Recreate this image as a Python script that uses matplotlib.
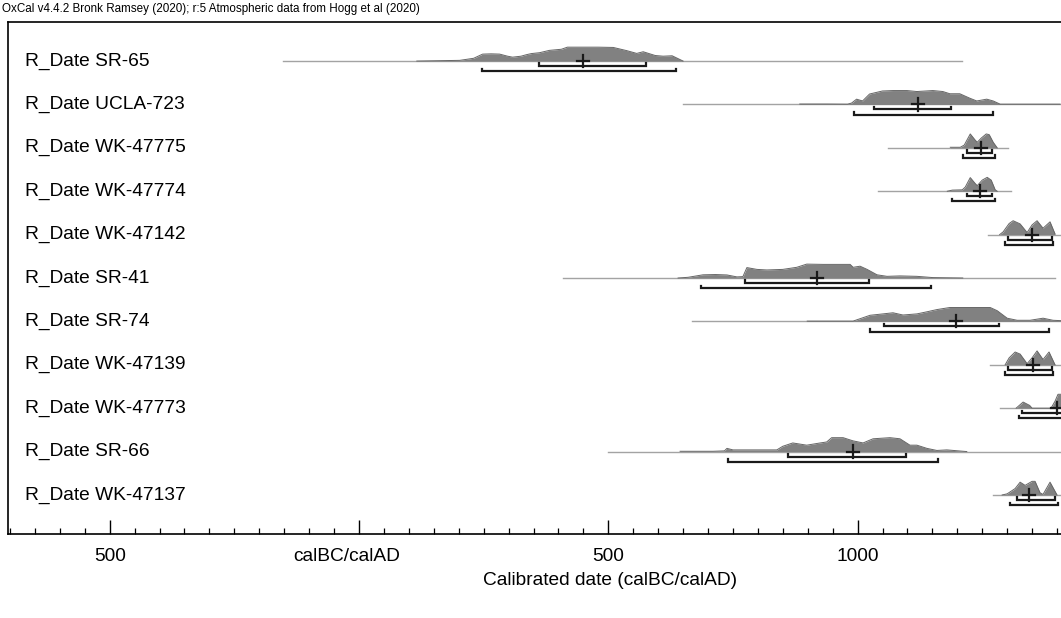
# OxCal style multiplot of calibrated radiocarbon dates
import matplotlib
matplotlib.use("Agg")
from matplotlib import pyplot as plt
from matplotlib import transforms
from matplotlib.ticker import FixedLocator, MultipleLocator

plt.rcParams['font.family'] = ['Liberation Sans', 'DejaVu Sans']

HEADER = "OxCal v4.4.2 Bronk Ramsey (2020); r:5 Atmospheric data from Hogg et al (2020)"
X_LABEL = "Calibrated date (calBC/calAD)"

labels = ["R_Date SR-65", "R_Date UCLA-723", "R_Date WK-47775", "R_Date WK-47774",
          "R_Date WK-47142", "R_Date SR-41", "R_Date SR-74", "R_Date WK-47139",
          "R_Date WK-47773", "R_Date SR-66", "R_Date WK-47137"]

# posterior shapes (year, relative probability)
sr65_years = [116, 202, 230, 248, 265, 282, 298, 308, 325, 336, 346, 362, 382, 406, 418,
              450, 480, 510, 537, 557, 570, 594, 610, 628, 650]
sr65_prob = [0, 0.05, 0.2, 0.5, 0.52, 0.5, 0.35, 0.28, 0.35, 0.46, 0.54, 0.6, 0.77, 0.85, 1.0,
             1.0, 1.0, 0.98, 0.75, 0.55, 0.67, 0.4, 0.35, 0.38, 0]
ucla723_years = [884, 938, 980, 988, 998, 1010, 1024, 1050, 1071, 1099, 1119, 1151, 1171, 1185,
                 1205, 1225, 1239, 1259, 1272, 1286, 1312, 1406]
ucla723_prob = [0.03, 0.03, 0.02, 0.1, 0.38, 0.25, 0.75, 0.97, 1.0, 1.0, 0.93, 1.0, 0.93, 0.77,
                0.77, 0.45, 0.25, 0.38, 0.25, 0.02, 0.02, 0.02]
wk47775_years = [1186, 1206, 1214, 1226, 1236, 1240, 1248, 1258, 1264, 1272, 1280]
wk47775_prob = [0.04, 0.04, 0.2, 1.0, 0.55, 0.4, 0.7, 1.0, 0.95, 0.4, 0]
wk47774_years = [1180, 1190, 1210, 1216, 1226, 1236, 1240, 1250, 1260, 1268, 1276, 1280]
wk47774_prob = [0, 0.08, 0.1, 0.3, 0.98, 0.55, 0.4, 0.8, 1.0, 0.8, 0.1, 0]
wk47142_years = [1285, 1292, 1304, 1312, 1326, 1340, 1350, 1360, 1372, 1386, 1396]
wk47142_prob = [0, 0.2, 0.8, 1.0, 0.77, 0.15, 0.7, 1.0, 0.46, 0.92, 0.05]
sr41_years = [640, 660, 690, 715, 738, 758, 770, 778, 798, 818, 850, 878, 898, 931, 971, 985,
              991, 1005, 1019, 1039, 1059, 1085, 1119, 1151, 1211]
sr41_prob = [0, 0.05, 0.23, 0.25, 0.22, 0.08, 0.1, 0.75, 0.62, 0.58, 0.62, 0.77, 1.0, 0.98,
             0.98, 0.98, 0.77, 0.85, 0.62, 0.23, 0.12, 0.15, 0.12, 0.03, 0]
sr74_years = [899, 925, 991, 1025, 1051, 1071, 1091, 1119, 1139, 1159, 1185, 1220, 1266, 1280,
              1300, 1320, 1346, 1372, 1392, 1410]
sr74_prob = [0.02, 0.02, 0.02, 0.44, 0.54, 0.62, 0.46, 0.54, 0.69, 0.85, 1.0, 1.0, 1.0, 0.77,
             0.23, 0.08, 0.08, 0.23, 0.08, 0.05]
wk47139_years = [1296, 1304, 1316, 1326, 1340, 1350, 1360, 1372, 1384, 1396]
wk47139_prob = [0, 0.5, 0.92, 0.77, 0.08, 0.5, 1.0, 0.38, 0.92, 0]
wk47773_years = [1318, 1332, 1345, 1350, 1388, 1396, 1402, 1410]
wk47773_prob = [0, 0.44, 0.2, 0, 0, 0.5, 1.0, 1.0]
sr66_years = [644, 710, 733, 738, 750, 764, 838, 850, 870, 898, 925, 938, 948, 971, 991, 1011,
              1031, 1065, 1085, 1105, 1119, 1139, 1159, 1179, 1219]
sr66_prob = [0.02, 0.02, 0.05, 0.23, 0.12, 0.12, 0.12, 0.38, 0.62, 0.46, 0.62, 0.69, 1.0, 1.0,
             0.77, 0.62, 0.92, 1.0, 0.92, 0.46, 0.46, 0.23, 0.08, 0.12, 0]
wk47137_years = [1290, 1300, 1316, 1326, 1336, 1350, 1356, 1366, 1372, 1386, 1400]
wk47137_prob = [0, 0.08, 0.46, 0.92, 0.69, 0.98, 0.98, 0.15, 0.04, 0.92, 0]

# extent of the thin grey line behind each distribution
line_start = [-152, 650, 1061, 1041, 1262, 409, 668, 1266, 1286, 499, 1272]
line_end = [1209, 1410, 1302, 1308, 1410, 1396, 1410, 1410, 1410, 1410, 1410]

# 68.2% and 95.4% ranges, and the mean
range68_lo = [361, 1033, 1220, 1220, 1302, 774, 1053, 1302, 1330, 860, 1320]
range68_hi = [575, 1188, 1270, 1270, 1390, 1023, 1284, 1390, 1430, 1097, 1396]
range95_lo = [247, 993, 1212, 1190, 1296, 686, 1025, 1296, 1324, 740, 1306]
range95_hi = [636, 1272, 1276, 1276, 1392, 1147, 1384, 1392, 1440, 1161, 1402]
means = [449, 1121, 1248, 1246, 1350, 919, 1198, 1352, 1400, 991, 1344]

tick_years = [-500, 0, 500, 1000]
tick_labels = ["500", "calBC/calAD", "500", "1000"]

dist_years = [sr65_years, ucla723_years, wk47775_years, wk47774_years, wk47142_years,
              sr41_years, sr74_years, wk47139_years, wk47773_years, sr66_years, wk47137_years]
dist_prob = [sr65_prob, ucla723_prob, wk47775_prob, wk47774_prob, wk47142_prob,
             sr41_prob, sr74_prob, wk47139_prob, wk47773_prob, sr66_prob, wk47137_prob]

W, H = 1061, 618
fig = plt.figure(figsize=(W / 100, H / 100), dpi=100)
ax = fig.add_axes([8 / W, (H - 534) / H, 1 - 8 / W, (534 - 22) / H])

PEAK = 0.32      # height of a full peak, in row units
B68 = 0.115      # offsets of the range brackets below the baseline
B95 = 0.235
HOOK = 0.06
ink = '#1a1a1a'
FS = 13.8

for i, name in enumerate(labels):
    y0 = -i
    ax.plot([line_start[i], line_end[i]], [y0, y0], color='#a3a3a3', lw=1.0, zorder=1)
    yy = [y0 + PEAK * p for p in dist_prob[i]]
    ax.fill_between(dist_years[i], y0, yy, color='#818181', lw=0, zorder=2)
    ax.plot(dist_years[i], yy, color='#666666', lw=0.7, zorder=2)
    for lo, hi, off in [(range68_lo[i], range68_hi[i], B68), (range95_lo[i], range95_hi[i], B95)]:
        yb = y0 - off
        ax.plot([lo, lo, hi, hi], [yb + HOOK, yb, yb, yb + HOOK], color=ink, lw=1.6,
                solid_joinstyle='miter', zorder=3)
    m = means[i]
    ax.plot([m, m], [y0 - 0.14, y0 + 0.14], color=ink, lw=1.6, zorder=4)
    ax.plot([m - 12, m + 12], [y0, y0], color=ink, lw=1.6, zorder=4)
    ax.text(17 / 1053, y0, name, transform=ax.get_yaxis_transform(), fontsize=FS,
            va='center', ha='left')

ax.set_xlim(-704, 1408)
ax.set_ylim(-10.9, 0.9)
ax.set_yticks([])
ax.xaxis.set_major_locator(FixedLocator(tick_years))
ax.set_xticklabels(tick_labels)
ax.xaxis.set_minor_locator(MultipleLocator(50))
ax.tick_params(axis='x', which='major', direction='in', length=10, width=1.0,
               labelsize=FS, pad=10)
ax.tick_params(axis='x', which='minor', direction='in', length=4.3, width=0.9)
ax.spines['right'].set_visible(False)
for s in ['left', 'top', 'bottom']:
    ax.spines[s].set_linewidth(1.2)
ax.set_xlabel(X_LABEL, fontsize=FS)
ax.xaxis.set_label_coords(0.572, -0.075)

# the calBC/calAD label sits a little left of its tick in the original
shift = transforms.ScaledTranslation(-0.12, 0, fig.dpi_scale_trans)
lab0 = ax.get_xticklabels()[1]
lab0.set_transform(lab0.get_transform() + shift)

fig.text(2 / W, 1 - 9 / H, HEADER, fontsize=8.4, va='center', ha='left')

fig.savefig("out.png", dpi=100)
